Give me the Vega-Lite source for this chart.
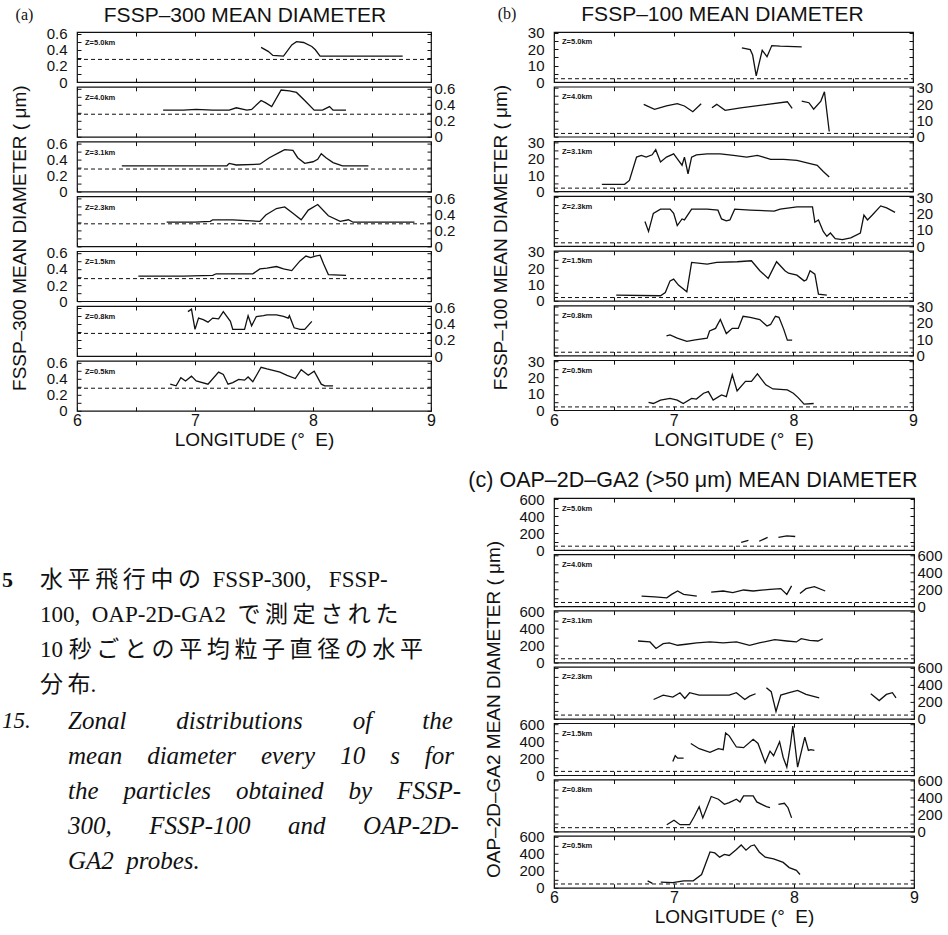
{
  "$schema": "https://vega.github.io/schema/vega-lite/v6.json",
  "background": "white",
  "padding": {"left": 2, "top": 4, "right": 0, "bottom": 0},
  "config": {
    "view": {"stroke": "#111", "strokeWidth": 1.2},
    "font": "Liberation Sans",
    "axis": {"domain": false, "grid": false, "ticks": true, "tickSize": -4, "tickColor": "#111", "tickWidth": 1, "labelFont": "Liberation Sans", "labelFontSize": 15, "labelColor": "#111", "labelPadding": 14, "labelOverlap": false, "labelFlush": false, "titleFont": "Liberation Sans", "titleFontSize": 19, "titleFontWeight": "normal", "titleColor": "#111"},
    "axisLeft": {"labelPadding": 14},
    "axisRight": {"labelPadding": 7},
    "axisBottom": {"labelFontSize": 16, "labelPadding": 6, "titlePadding": 2},
    "line": {"color": "#111", "strokeWidth": 1.3},
    "rule": {"color": "#111", "strokeWidth": 1, "strokeDash": [4, 3]},
    "text": {"color": "#111"},
    "title": {"color": "#111", "font": "Liberation Sans", "fontWeight": "normal"}
  },
  "datasets": {
    "fssp300": [
      {"z": "5.0", "seg": 1, "lon": 7.56, "d": 0.43}, {"z": "5.0", "seg": 1, "lon": 7.62, "d": 0.38}, {"z": "5.0", "seg": 1, "lon": 7.66, "d": 0.33}, {"z": "5.0", "seg": 1, "lon": 7.75, "d": 0.32}, {"z": "5.0", "seg": 1, "lon": 7.82, "d": 0.46}, {"z": "5.0", "seg": 1, "lon": 7.86, "d": 0.5}, {"z": "5.0", "seg": 1, "lon": 7.92, "d": 0.49}, {"z": "5.0", "seg": 1, "lon": 7.99, "d": 0.44}, {"z": "5.0", "seg": 1, "lon": 8.02, "d": 0.4}, {"z": "5.0", "seg": 1, "lon": 8.06, "d": 0.32}, {"z": "5.0", "seg": 1, "lon": 8.3, "d": 0.32}, {"z": "5.0", "seg": 1, "lon": 8.5, "d": 0.32}, {"z": "5.0", "seg": 1, "lon": 8.76, "d": 0.32},
      {"z": "4.0", "seg": 1, "lon": 6.73, "d": 0.33}, {"z": "4.0", "seg": 1, "lon": 6.9, "d": 0.33}, {"z": "4.0", "seg": 1, "lon": 7.01, "d": 0.34}, {"z": "4.0", "seg": 1, "lon": 7.15, "d": 0.33}, {"z": "4.0", "seg": 1, "lon": 7.29, "d": 0.33}, {"z": "4.0", "seg": 1, "lon": 7.35, "d": 0.36}, {"z": "4.0", "seg": 1, "lon": 7.44, "d": 0.33}, {"z": "4.0", "seg": 1, "lon": 7.48, "d": 0.34}, {"z": "4.0", "seg": 1, "lon": 7.56, "d": 0.45}, {"z": "4.0", "seg": 1, "lon": 7.6, "d": 0.42}, {"z": "4.0", "seg": 1, "lon": 7.65, "d": 0.375}, {"z": "4.0", "seg": 1, "lon": 7.73, "d": 0.58}, {"z": "4.0", "seg": 1, "lon": 7.8, "d": 0.57}, {"z": "4.0", "seg": 1, "lon": 7.86, "d": 0.55}, {"z": "4.0", "seg": 1, "lon": 7.93, "d": 0.45}, {"z": "4.0", "seg": 1, "lon": 8.01, "d": 0.33}, {"z": "4.0", "seg": 1, "lon": 8.08, "d": 0.33}, {"z": "4.0", "seg": 1, "lon": 8.14, "d": 0.375}, {"z": "4.0", "seg": 1, "lon": 8.17, "d": 0.33}, {"z": "4.0", "seg": 1, "lon": 8.28, "d": 0.33},
      {"z": "3.1", "seg": 1, "lon": 6.38, "d": 0.32}, {"z": "3.1", "seg": 1, "lon": 6.6, "d": 0.32}, {"z": "3.1", "seg": 1, "lon": 6.8, "d": 0.32}, {"z": "3.1", "seg": 1, "lon": 7.0, "d": 0.32}, {"z": "3.1", "seg": 1, "lon": 7.27, "d": 0.32}, {"z": "3.1", "seg": 1, "lon": 7.29, "d": 0.35}, {"z": "3.1", "seg": 1, "lon": 7.35, "d": 0.33}, {"z": "3.1", "seg": 1, "lon": 7.55, "d": 0.34}, {"z": "3.1", "seg": 1, "lon": 7.63, "d": 0.42}, {"z": "3.1", "seg": 1, "lon": 7.72, "d": 0.49}, {"z": "3.1", "seg": 1, "lon": 7.76, "d": 0.52}, {"z": "3.1", "seg": 1, "lon": 7.83, "d": 0.51}, {"z": "3.1", "seg": 1, "lon": 7.87, "d": 0.42}, {"z": "3.1", "seg": 1, "lon": 7.93, "d": 0.35}, {"z": "3.1", "seg": 1, "lon": 8.0, "d": 0.37}, {"z": "3.1", "seg": 1, "lon": 8.04, "d": 0.4}, {"z": "3.1", "seg": 1, "lon": 8.07, "d": 0.47}, {"z": "3.1", "seg": 1, "lon": 8.11, "d": 0.42}, {"z": "3.1", "seg": 1, "lon": 8.17, "d": 0.36}, {"z": "3.1", "seg": 1, "lon": 8.25, "d": 0.32}, {"z": "3.1", "seg": 1, "lon": 8.47, "d": 0.32},
      {"z": "2.3", "seg": 1, "lon": 6.76, "d": 0.3}, {"z": "2.3", "seg": 1, "lon": 7.0, "d": 0.3}, {"z": "2.3", "seg": 1, "lon": 7.13, "d": 0.31}, {"z": "2.3", "seg": 1, "lon": 7.15, "d": 0.33}, {"z": "2.3", "seg": 1, "lon": 7.32, "d": 0.33}, {"z": "2.3", "seg": 1, "lon": 7.55, "d": 0.31}, {"z": "2.3", "seg": 1, "lon": 7.6, "d": 0.39}, {"z": "2.3", "seg": 1, "lon": 7.69, "d": 0.47}, {"z": "2.3", "seg": 1, "lon": 7.76, "d": 0.49}, {"z": "2.3", "seg": 1, "lon": 7.83, "d": 0.41}, {"z": "2.3", "seg": 1, "lon": 7.9, "d": 0.33}, {"z": "2.3", "seg": 1, "lon": 7.96, "d": 0.45}, {"z": "2.3", "seg": 1, "lon": 8.04, "d": 0.52}, {"z": "2.3", "seg": 1, "lon": 8.13, "d": 0.38}, {"z": "2.3", "seg": 1, "lon": 8.23, "d": 0.31}, {"z": "2.3", "seg": 1, "lon": 8.3, "d": 0.33}, {"z": "2.3", "seg": 1, "lon": 8.34, "d": 0.3}, {"z": "2.3", "seg": 1, "lon": 8.6, "d": 0.3}, {"z": "2.3", "seg": 1, "lon": 8.86, "d": 0.3},
      {"z": "1.5", "seg": 1, "lon": 6.52, "d": 0.31}, {"z": "1.5", "seg": 1, "lon": 6.9, "d": 0.31}, {"z": "1.5", "seg": 1, "lon": 7.15, "d": 0.32}, {"z": "1.5", "seg": 1, "lon": 7.18, "d": 0.34}, {"z": "1.5", "seg": 1, "lon": 7.49, "d": 0.34}, {"z": "1.5", "seg": 1, "lon": 7.55, "d": 0.4}, {"z": "1.5", "seg": 1, "lon": 7.61, "d": 0.41}, {"z": "1.5", "seg": 1, "lon": 7.69, "d": 0.43}, {"z": "1.5", "seg": 1, "lon": 7.75, "d": 0.4}, {"z": "1.5", "seg": 1, "lon": 7.82, "d": 0.38}, {"z": "1.5", "seg": 1, "lon": 7.89, "d": 0.5}, {"z": "1.5", "seg": 1, "lon": 7.94, "d": 0.56}, {"z": "1.5", "seg": 1, "lon": 7.98, "d": 0.54}, {"z": "1.5", "seg": 1, "lon": 8.02, "d": 0.56}, {"z": "1.5", "seg": 1, "lon": 8.06, "d": 0.57}, {"z": "1.5", "seg": 1, "lon": 8.09, "d": 0.46}, {"z": "1.5", "seg": 1, "lon": 8.13, "d": 0.33}, {"z": "1.5", "seg": 1, "lon": 8.28, "d": 0.32},
      {"z": "0.8", "seg": 1, "lon": 6.94, "d": 0.55}, {"z": "0.8", "seg": 1, "lon": 6.97, "d": 0.58}, {"z": "0.8", "seg": 1, "lon": 7.0, "d": 0.33}, {"z": "0.8", "seg": 1, "lon": 7.03, "d": 0.47}, {"z": "0.8", "seg": 1, "lon": 7.07, "d": 0.45}, {"z": "0.8", "seg": 1, "lon": 7.11, "d": 0.42}, {"z": "0.8", "seg": 1, "lon": 7.15, "d": 0.47}, {"z": "0.8", "seg": 1, "lon": 7.2, "d": 0.46}, {"z": "0.8", "seg": 1, "lon": 7.24, "d": 0.55}, {"z": "0.8", "seg": 1, "lon": 7.3, "d": 0.43}, {"z": "0.8", "seg": 1, "lon": 7.32, "d": 0.33}, {"z": "0.8", "seg": 1, "lon": 7.42, "d": 0.33}, {"z": "0.8", "seg": 1, "lon": 7.45, "d": 0.5}, {"z": "0.8", "seg": 1, "lon": 7.48, "d": 0.375}, {"z": "0.8", "seg": 1, "lon": 7.52, "d": 0.49}, {"z": "0.8", "seg": 1, "lon": 7.58, "d": 0.5}, {"z": "0.8", "seg": 1, "lon": 7.61, "d": 0.51}, {"z": "0.8", "seg": 1, "lon": 7.69, "d": 0.51}, {"z": "0.8", "seg": 1, "lon": 7.75, "d": 0.49}, {"z": "0.8", "seg": 1, "lon": 7.79, "d": 0.47}, {"z": "0.8", "seg": 1, "lon": 7.8, "d": 0.5}, {"z": "0.8", "seg": 1, "lon": 7.84, "d": 0.35}, {"z": "0.8", "seg": 1, "lon": 7.89, "d": 0.33}, {"z": "0.8", "seg": 1, "lon": 7.93, "d": 0.33}, {"z": "0.8", "seg": 1, "lon": 7.99, "d": 0.43},
      {"z": "0.5", "seg": 1, "lon": 6.79, "d": 0.33}, {"z": "0.5", "seg": 1, "lon": 6.84, "d": 0.31}, {"z": "0.5", "seg": 1, "lon": 6.88, "d": 0.41}, {"z": "0.5", "seg": 1, "lon": 6.92, "d": 0.37}, {"z": "0.5", "seg": 1, "lon": 6.97, "d": 0.43}, {"z": "0.5", "seg": 1, "lon": 7.01, "d": 0.37}, {"z": "0.5", "seg": 1, "lon": 7.11, "d": 0.33}, {"z": "0.5", "seg": 1, "lon": 7.2, "d": 0.48}, {"z": "0.5", "seg": 1, "lon": 7.24, "d": 0.45}, {"z": "0.5", "seg": 1, "lon": 7.28, "d": 0.33}, {"z": "0.5", "seg": 1, "lon": 7.32, "d": 0.35}, {"z": "0.5", "seg": 1, "lon": 7.37, "d": 0.39}, {"z": "0.5", "seg": 1, "lon": 7.42, "d": 0.38}, {"z": "0.5", "seg": 1, "lon": 7.45, "d": 0.42}, {"z": "0.5", "seg": 1, "lon": 7.49, "d": 0.36}, {"z": "0.5", "seg": 1, "lon": 7.56, "d": 0.54}, {"z": "0.5", "seg": 1, "lon": 7.61, "d": 0.52}, {"z": "0.5", "seg": 1, "lon": 7.72, "d": 0.48}, {"z": "0.5", "seg": 1, "lon": 7.78, "d": 0.44}, {"z": "0.5", "seg": 1, "lon": 7.85, "d": 0.4}, {"z": "0.5", "seg": 1, "lon": 7.9, "d": 0.51}, {"z": "0.5", "seg": 1, "lon": 7.96, "d": 0.44}, {"z": "0.5", "seg": 1, "lon": 8.01, "d": 0.49}, {"z": "0.5", "seg": 1, "lon": 8.07, "d": 0.33}, {"z": "0.5", "seg": 1, "lon": 8.1, "d": 0.31}, {"z": "0.5", "seg": 1, "lon": 8.17, "d": 0.31}
    ],
    "fssp100": [
      {"z": "5.0", "seg": 1, "lon": 7.57, "d": 20.9}, {"z": "5.0", "seg": 1, "lon": 7.64, "d": 19.8}, {"z": "5.0", "seg": 1, "lon": 7.66, "d": 16.5}, {"z": "5.0", "seg": 1, "lon": 7.69, "d": 3.8}, {"z": "5.0", "seg": 1, "lon": 7.71, "d": 10.2}, {"z": "5.0", "seg": 1, "lon": 7.74, "d": 19.4}, {"z": "5.0", "seg": 1, "lon": 7.78, "d": 15.5}, {"z": "5.0", "seg": 1, "lon": 7.82, "d": 22.3}, {"z": "5.0", "seg": 1, "lon": 7.89, "d": 21.9}, {"z": "5.0", "seg": 1, "lon": 8.07, "d": 21.5},
      {"z": "4.0", "seg": 1, "lon": 6.75, "d": 19.8}, {"z": "4.0", "seg": 1, "lon": 6.84, "d": 16.7}, {"z": "4.0", "seg": 1, "lon": 6.94, "d": 18.8}, {"z": "4.0", "seg": 1, "lon": 7.03, "d": 20.2}, {"z": "4.0", "seg": 1, "lon": 7.09, "d": 18.8}, {"z": "4.0", "seg": 1, "lon": 7.16, "d": 15.3}, {"z": "4.0", "seg": 1, "lon": 7.23, "d": 20.2},
      {"z": "4.0", "seg": 2, "lon": 7.32, "d": 17.7}, {"z": "4.0", "seg": 2, "lon": 7.36, "d": 19.8}, {"z": "4.0", "seg": 2, "lon": 7.43, "d": 16.1}, {"z": "4.0", "seg": 2, "lon": 7.56, "d": 17.7}, {"z": "4.0", "seg": 2, "lon": 7.72, "d": 19.2}, {"z": "4.0", "seg": 2, "lon": 7.95, "d": 21.4}, {"z": "4.0", "seg": 2, "lon": 7.99, "d": 17.3},
      {"z": "4.0", "seg": 3, "lon": 8.07, "d": 21.8}, {"z": "4.0", "seg": 3, "lon": 8.13, "d": 20.8}, {"z": "4.0", "seg": 3, "lon": 8.17, "d": 16.8}, {"z": "4.0", "seg": 3, "lon": 8.23, "d": 21.8}, {"z": "4.0", "seg": 3, "lon": 8.26, "d": 27.5}, {"z": "4.0", "seg": 3, "lon": 8.3, "d": 3.2},
      {"z": "3.1", "seg": 1, "lon": 6.4, "d": 4.3}, {"z": "3.1", "seg": 1, "lon": 6.49, "d": 4.3}, {"z": "3.1", "seg": 1, "lon": 6.59, "d": 4.3}, {"z": "3.1", "seg": 1, "lon": 6.63, "d": 6.7}, {"z": "3.1", "seg": 1, "lon": 6.69, "d": 21}, {"z": "3.1", "seg": 1, "lon": 6.73, "d": 22}, {"z": "3.1", "seg": 1, "lon": 6.77, "d": 21}, {"z": "3.1", "seg": 1, "lon": 6.82, "d": 22.4}, {"z": "3.1", "seg": 1, "lon": 6.85, "d": 25.5}, {"z": "3.1", "seg": 1, "lon": 6.89, "d": 18}, {"z": "3.1", "seg": 1, "lon": 6.94, "d": 21}, {"z": "3.1", "seg": 1, "lon": 7.0, "d": 23}, {"z": "3.1", "seg": 1, "lon": 7.04, "d": 19}, {"z": "3.1", "seg": 1, "lon": 7.07, "d": 16}, {"z": "3.1", "seg": 1, "lon": 7.09, "d": 21}, {"z": "3.1", "seg": 1, "lon": 7.12, "d": 10.8}, {"z": "3.1", "seg": 1, "lon": 7.15, "d": 21}, {"z": "3.1", "seg": 1, "lon": 7.19, "d": 22.4}, {"z": "3.1", "seg": 1, "lon": 7.28, "d": 23}, {"z": "3.1", "seg": 1, "lon": 7.39, "d": 23}, {"z": "3.1", "seg": 1, "lon": 7.5, "d": 22}, {"z": "3.1", "seg": 1, "lon": 7.61, "d": 21}, {"z": "3.1", "seg": 1, "lon": 7.7, "d": 22}, {"z": "3.1", "seg": 1, "lon": 7.75, "d": 21}, {"z": "3.1", "seg": 1, "lon": 7.81, "d": 19.6}, {"z": "3.1", "seg": 1, "lon": 7.92, "d": 19.6}, {"z": "3.1", "seg": 1, "lon": 8.03, "d": 19}, {"z": "3.1", "seg": 1, "lon": 8.14, "d": 17}, {"z": "3.1", "seg": 1, "lon": 8.2, "d": 16}, {"z": "3.1", "seg": 1, "lon": 8.25, "d": 12.2}, {"z": "3.1", "seg": 1, "lon": 8.3, "d": 8.8},
      {"z": "2.3", "seg": 1, "lon": 6.76, "d": 15}, {"z": "2.3", "seg": 1, "lon": 6.79, "d": 9}, {"z": "2.3", "seg": 1, "lon": 6.83, "d": 20}, {"z": "2.3", "seg": 1, "lon": 6.89, "d": 22.6}, {"z": "2.3", "seg": 1, "lon": 6.97, "d": 22.6}, {"z": "2.3", "seg": 1, "lon": 7.0, "d": 20}, {"z": "2.3", "seg": 1, "lon": 7.03, "d": 12.6}, {"z": "2.3", "seg": 1, "lon": 7.07, "d": 16.6}, {"z": "2.3", "seg": 1, "lon": 7.09, "d": 16}, {"z": "2.3", "seg": 1, "lon": 7.15, "d": 22.6}, {"z": "2.3", "seg": 1, "lon": 7.28, "d": 22.6}, {"z": "2.3", "seg": 1, "lon": 7.37, "d": 22}, {"z": "2.3", "seg": 1, "lon": 7.4, "d": 16.6}, {"z": "2.3", "seg": 1, "lon": 7.44, "d": 15.4}, {"z": "2.3", "seg": 1, "lon": 7.47, "d": 16}, {"z": "2.3", "seg": 1, "lon": 7.51, "d": 22.6}, {"z": "2.3", "seg": 1, "lon": 7.64, "d": 22}, {"z": "2.3", "seg": 1, "lon": 7.84, "d": 21.4}, {"z": "2.3", "seg": 1, "lon": 7.89, "d": 22.6}, {"z": "2.3", "seg": 1, "lon": 8.03, "d": 24}, {"z": "2.3", "seg": 1, "lon": 8.16, "d": 24}, {"z": "2.3", "seg": 1, "lon": 8.18, "d": 14.6}, {"z": "2.3", "seg": 1, "lon": 8.21, "d": 16}, {"z": "2.3", "seg": 1, "lon": 8.25, "d": 9}, {"z": "2.3", "seg": 1, "lon": 8.28, "d": 6}, {"z": "2.3", "seg": 1, "lon": 8.31, "d": 8}, {"z": "2.3", "seg": 1, "lon": 8.35, "d": 4.6}, {"z": "2.3", "seg": 1, "lon": 8.41, "d": 4}, {"z": "2.3", "seg": 1, "lon": 8.48, "d": 5}, {"z": "2.3", "seg": 1, "lon": 8.56, "d": 8}, {"z": "2.3", "seg": 1, "lon": 8.59, "d": 19}, {"z": "2.3", "seg": 1, "lon": 8.62, "d": 16}, {"z": "2.3", "seg": 1, "lon": 8.66, "d": 19}, {"z": "2.3", "seg": 1, "lon": 8.73, "d": 24.6}, {"z": "2.3", "seg": 1, "lon": 8.78, "d": 23.4}, {"z": "2.3", "seg": 1, "lon": 8.85, "d": 20.6},
      {"z": "1.5", "seg": 1, "lon": 6.52, "d": 3.5}, {"z": "1.5", "seg": 1, "lon": 6.89, "d": 3.1}, {"z": "1.5", "seg": 1, "lon": 6.93, "d": 5.1}, {"z": "1.5", "seg": 1, "lon": 6.97, "d": 12.2}, {"z": "1.5", "seg": 1, "lon": 7.0, "d": 13.3}, {"z": "1.5", "seg": 1, "lon": 7.04, "d": 9.6}, {"z": "1.5", "seg": 1, "lon": 7.11, "d": 5.5}, {"z": "1.5", "seg": 1, "lon": 7.15, "d": 23.5}, {"z": "1.5", "seg": 1, "lon": 7.28, "d": 22.4}, {"z": "1.5", "seg": 1, "lon": 7.36, "d": 23.5}, {"z": "1.5", "seg": 1, "lon": 7.53, "d": 23.9}, {"z": "1.5", "seg": 1, "lon": 7.65, "d": 24.5}, {"z": "1.5", "seg": 1, "lon": 7.72, "d": 18.4}, {"z": "1.5", "seg": 1, "lon": 7.79, "d": 13.7}, {"z": "1.5", "seg": 1, "lon": 7.86, "d": 23.9}, {"z": "1.5", "seg": 1, "lon": 7.93, "d": 18.4}, {"z": "1.5", "seg": 1, "lon": 7.96, "d": 16.9}, {"z": "1.5", "seg": 1, "lon": 8.03, "d": 15.7}, {"z": "1.5", "seg": 1, "lon": 8.09, "d": 12.2}, {"z": "1.5", "seg": 1, "lon": 8.11, "d": 12.9}, {"z": "1.5", "seg": 1, "lon": 8.14, "d": 18.4}, {"z": "1.5", "seg": 1, "lon": 8.18, "d": 16.3}, {"z": "1.5", "seg": 1, "lon": 8.21, "d": 4.1}, {"z": "1.5", "seg": 1, "lon": 8.28, "d": 3.5},
      {"z": "0.8", "seg": 1, "lon": 6.94, "d": 12}, {"z": "0.8", "seg": 1, "lon": 6.97, "d": 12.6}, {"z": "0.8", "seg": 1, "lon": 7.03, "d": 10.6}, {"z": "0.8", "seg": 1, "lon": 7.11, "d": 8.6}, {"z": "0.8", "seg": 1, "lon": 7.18, "d": 9.6}, {"z": "0.8", "seg": 1, "lon": 7.28, "d": 10.6}, {"z": "0.8", "seg": 1, "lon": 7.3, "d": 15}, {"z": "0.8", "seg": 1, "lon": 7.35, "d": 16.6}, {"z": "0.8", "seg": 1, "lon": 7.39, "d": 22}, {"z": "0.8", "seg": 1, "lon": 7.44, "d": 13.4}, {"z": "0.8", "seg": 1, "lon": 7.49, "d": 16.6}, {"z": "0.8", "seg": 1, "lon": 7.54, "d": 16.6}, {"z": "0.8", "seg": 1, "lon": 7.58, "d": 24}, {"z": "0.8", "seg": 1, "lon": 7.64, "d": 23.4}, {"z": "0.8", "seg": 1, "lon": 7.72, "d": 22}, {"z": "0.8", "seg": 1, "lon": 7.78, "d": 18}, {"z": "0.8", "seg": 1, "lon": 7.81, "d": 19}, {"z": "0.8", "seg": 1, "lon": 7.85, "d": 24}, {"z": "0.8", "seg": 1, "lon": 7.88, "d": 23.4}, {"z": "0.8", "seg": 1, "lon": 7.92, "d": 16}, {"z": "0.8", "seg": 1, "lon": 7.95, "d": 9.4}, {"z": "0.8", "seg": 1, "lon": 7.99, "d": 9.4},
      {"z": "0.5", "seg": 1, "lon": 6.79, "d": 4.8}, {"z": "0.5", "seg": 1, "lon": 6.83, "d": 4.1}, {"z": "0.5", "seg": 1, "lon": 6.89, "d": 6.2}, {"z": "0.5", "seg": 1, "lon": 6.97, "d": 7.2}, {"z": "0.5", "seg": 1, "lon": 7.03, "d": 6.2}, {"z": "0.5", "seg": 1, "lon": 7.08, "d": 4.1}, {"z": "0.5", "seg": 1, "lon": 7.15, "d": 7.2}, {"z": "0.5", "seg": 1, "lon": 7.19, "d": 6.8}, {"z": "0.5", "seg": 1, "lon": 7.25, "d": 10.4}, {"z": "0.5", "seg": 1, "lon": 7.29, "d": 11.4}, {"z": "0.5", "seg": 1, "lon": 7.33, "d": 6.2}, {"z": "0.5", "seg": 1, "lon": 7.4, "d": 9.3}, {"z": "0.5", "seg": 1, "lon": 7.44, "d": 8.3}, {"z": "0.5", "seg": 1, "lon": 7.49, "d": 21.7}, {"z": "0.5", "seg": 1, "lon": 7.53, "d": 11.8}, {"z": "0.5", "seg": 1, "lon": 7.6, "d": 17.6}, {"z": "0.5", "seg": 1, "lon": 7.65, "d": 17.6}, {"z": "0.5", "seg": 1, "lon": 7.7, "d": 22.2}, {"z": "0.5", "seg": 1, "lon": 7.77, "d": 15.5}, {"z": "0.5", "seg": 1, "lon": 7.83, "d": 13}, {"z": "0.5", "seg": 1, "lon": 7.95, "d": 12.4}, {"z": "0.5", "seg": 1, "lon": 8.0, "d": 10.4}, {"z": "0.5", "seg": 1, "lon": 8.04, "d": 7.7}, {"z": "0.5", "seg": 1, "lon": 8.09, "d": 3.7}, {"z": "0.5", "seg": 1, "lon": 8.17, "d": 4.1}
    ],
    "oap": [
      {"z": "5.0", "seg": 1, "lon": 7.56, "d": 90}, {"z": "5.0", "seg": 1, "lon": 7.62, "d": 114},
      {"z": "5.0", "seg": 2, "lon": 7.71, "d": 103}, {"z": "5.0", "seg": 2, "lon": 7.78, "d": 148},
      {"z": "5.0", "seg": 3, "lon": 7.87, "d": 148}, {"z": "5.0", "seg": 3, "lon": 7.94, "d": 166}, {"z": "5.0", "seg": 3, "lon": 8.01, "d": 159},
      {"z": "4.0", "seg": 1, "lon": 6.73, "d": 120}, {"z": "4.0", "seg": 1, "lon": 6.84, "d": 112}, {"z": "4.0", "seg": 1, "lon": 6.94, "d": 100}, {"z": "4.0", "seg": 1, "lon": 6.98, "d": 140}, {"z": "4.0", "seg": 1, "lon": 7.03, "d": 180}, {"z": "4.0", "seg": 1, "lon": 7.08, "d": 140}, {"z": "4.0", "seg": 1, "lon": 7.19, "d": 120},
      {"z": "4.0", "seg": 2, "lon": 7.31, "d": 168}, {"z": "4.0", "seg": 2, "lon": 7.41, "d": 180}, {"z": "4.0", "seg": 2, "lon": 7.49, "d": 160}, {"z": "4.0", "seg": 2, "lon": 7.58, "d": 192}, {"z": "4.0", "seg": 2, "lon": 7.66, "d": 180}, {"z": "4.0", "seg": 2, "lon": 7.8, "d": 200}, {"z": "4.0", "seg": 2, "lon": 7.89, "d": 208}, {"z": "4.0", "seg": 2, "lon": 7.94, "d": 140}, {"z": "4.0", "seg": 2, "lon": 7.98, "d": 240},
      {"z": "4.0", "seg": 3, "lon": 8.05, "d": 152}, {"z": "4.0", "seg": 3, "lon": 8.1, "d": 208}, {"z": "4.0", "seg": 3, "lon": 8.17, "d": 232}, {"z": "4.0", "seg": 3, "lon": 8.26, "d": 180},
      {"z": "3.1", "seg": 1, "lon": 6.7, "d": 254}, {"z": "3.1", "seg": 1, "lon": 6.8, "d": 243}, {"z": "3.1", "seg": 1, "lon": 6.85, "d": 166}, {"z": "3.1", "seg": 1, "lon": 6.91, "d": 223}, {"z": "3.1", "seg": 1, "lon": 6.96, "d": 231}, {"z": "3.1", "seg": 1, "lon": 7.03, "d": 204}, {"z": "3.1", "seg": 1, "lon": 7.1, "d": 216}, {"z": "3.1", "seg": 1, "lon": 7.19, "d": 231}, {"z": "3.1", "seg": 1, "lon": 7.3, "d": 243}, {"z": "3.1", "seg": 1, "lon": 7.41, "d": 231}, {"z": "3.1", "seg": 1, "lon": 7.52, "d": 243}, {"z": "3.1", "seg": 1, "lon": 7.63, "d": 204}, {"z": "3.1", "seg": 1, "lon": 7.71, "d": 231}, {"z": "3.1", "seg": 1, "lon": 7.84, "d": 270}, {"z": "3.1", "seg": 1, "lon": 7.94, "d": 254}, {"z": "3.1", "seg": 1, "lon": 8.02, "d": 243}, {"z": "3.1", "seg": 1, "lon": 8.06, "d": 281}, {"z": "3.1", "seg": 1, "lon": 8.13, "d": 262}, {"z": "3.1", "seg": 1, "lon": 8.2, "d": 254}, {"z": "3.1", "seg": 1, "lon": 8.24, "d": 281},
      {"z": "2.3", "seg": 1, "lon": 6.83, "d": 228}, {"z": "2.3", "seg": 1, "lon": 6.91, "d": 280}, {"z": "2.3", "seg": 1, "lon": 6.99, "d": 256}, {"z": "2.3", "seg": 1, "lon": 7.05, "d": 308}, {"z": "2.3", "seg": 1, "lon": 7.09, "d": 240}, {"z": "2.3", "seg": 1, "lon": 7.13, "d": 308}, {"z": "2.3", "seg": 1, "lon": 7.21, "d": 280}, {"z": "2.3", "seg": 1, "lon": 7.35, "d": 280}, {"z": "2.3", "seg": 1, "lon": 7.46, "d": 280}, {"z": "2.3", "seg": 1, "lon": 7.52, "d": 308}, {"z": "2.3", "seg": 1, "lon": 7.59, "d": 228}, {"z": "2.3", "seg": 1, "lon": 7.63, "d": 268}, {"z": "2.3", "seg": 1, "lon": 7.68, "d": 296},
      {"z": "2.3", "seg": 2, "lon": 7.77, "d": 368}, {"z": "2.3", "seg": 2, "lon": 7.81, "d": 320}, {"z": "2.3", "seg": 2, "lon": 7.85, "d": 88}, {"z": "2.3", "seg": 2, "lon": 7.89, "d": 280}, {"z": "2.3", "seg": 2, "lon": 7.96, "d": 308}, {"z": "2.3", "seg": 2, "lon": 8.03, "d": 336}, {"z": "2.3", "seg": 2, "lon": 8.1, "d": 288}, {"z": "2.3", "seg": 2, "lon": 8.21, "d": 248},
      {"z": "2.3", "seg": 3, "lon": 8.64, "d": 296}, {"z": "2.3", "seg": 3, "lon": 8.71, "d": 216}, {"z": "2.3", "seg": 3, "lon": 8.77, "d": 288}, {"z": "2.3", "seg": 3, "lon": 8.82, "d": 308}, {"z": "2.3", "seg": 3, "lon": 8.85, "d": 248},
      {"z": "1.5", "seg": 1, "lon": 6.99, "d": 160}, {"z": "1.5", "seg": 1, "lon": 7.01, "d": 230}, {"z": "1.5", "seg": 1, "lon": 7.03, "d": 200}, {"z": "1.5", "seg": 1, "lon": 7.08, "d": 200},
      {"z": "1.5", "seg": 2, "lon": 7.14, "d": 373}, {"z": "1.5", "seg": 2, "lon": 7.21, "d": 312}, {"z": "1.5", "seg": 2, "lon": 7.3, "d": 270}, {"z": "1.5", "seg": 2, "lon": 7.37, "d": 312}, {"z": "1.5", "seg": 2, "lon": 7.41, "d": 300}, {"z": "1.5", "seg": 2, "lon": 7.43, "d": 496}, {"z": "1.5", "seg": 2, "lon": 7.46, "d": 463}, {"z": "1.5", "seg": 2, "lon": 7.52, "d": 332}, {"z": "1.5", "seg": 2, "lon": 7.58, "d": 324}, {"z": "1.5", "seg": 2, "lon": 7.66, "d": 422}, {"z": "1.5", "seg": 2, "lon": 7.7, "d": 373}, {"z": "1.5", "seg": 2, "lon": 7.76, "d": 148}, {"z": "1.5", "seg": 2, "lon": 7.8, "d": 283}, {"z": "1.5", "seg": 2, "lon": 7.83, "d": 230}, {"z": "1.5", "seg": 2, "lon": 7.88, "d": 394}, {"z": "1.5", "seg": 2, "lon": 7.91, "d": 209}, {"z": "1.5", "seg": 2, "lon": 7.94, "d": 94}, {"z": "1.5", "seg": 2, "lon": 7.97, "d": 353}, {"z": "1.5", "seg": 2, "lon": 7.99, "d": 578}, {"z": "1.5", "seg": 2, "lon": 8.03, "d": 94}, {"z": "1.5", "seg": 2, "lon": 8.09, "d": 447}, {"z": "1.5", "seg": 2, "lon": 8.12, "d": 291}, {"z": "1.5", "seg": 2, "lon": 8.14, "d": 300}, {"z": "1.5", "seg": 2, "lon": 8.17, "d": 291},
      {"z": "0.8", "seg": 1, "lon": 6.94, "d": 80}, {"z": "0.8", "seg": 1, "lon": 7.0, "d": 132}, {"z": "0.8", "seg": 1, "lon": 7.05, "d": 80}, {"z": "0.8", "seg": 1, "lon": 7.13, "d": 80}, {"z": "0.8", "seg": 1, "lon": 7.17, "d": 180}, {"z": "0.8", "seg": 1, "lon": 7.21, "d": 292}, {"z": "0.8", "seg": 1, "lon": 7.24, "d": 160}, {"z": "0.8", "seg": 1, "lon": 7.31, "d": 412}, {"z": "0.8", "seg": 1, "lon": 7.37, "d": 380}, {"z": "0.8", "seg": 1, "lon": 7.42, "d": 320}, {"z": "0.8", "seg": 1, "lon": 7.46, "d": 340}, {"z": "0.8", "seg": 1, "lon": 7.52, "d": 380}, {"z": "0.8", "seg": 1, "lon": 7.55, "d": 348}, {"z": "0.8", "seg": 1, "lon": 7.58, "d": 420}, {"z": "0.8", "seg": 1, "lon": 7.66, "d": 420}, {"z": "0.8", "seg": 1, "lon": 7.69, "d": 348}, {"z": "0.8", "seg": 1, "lon": 7.77, "d": 292}, {"z": "0.8", "seg": 1, "lon": 7.8, "d": 280},
      {"z": "0.8", "seg": 2, "lon": 7.87, "d": 320}, {"z": "0.8", "seg": 2, "lon": 7.92, "d": 332}, {"z": "0.8", "seg": 2, "lon": 7.95, "d": 280}, {"z": "0.8", "seg": 2, "lon": 7.98, "d": 160},
      {"z": "0.5", "seg": 1, "lon": 6.78, "d": 82}, {"z": "0.5", "seg": 1, "lon": 6.82, "d": 53},
      {"z": "0.5", "seg": 2, "lon": 6.89, "d": 66}, {"z": "0.5", "seg": 2, "lon": 6.99, "d": 62}, {"z": "0.5", "seg": 2, "lon": 7.08, "d": 82}, {"z": "0.5", "seg": 2, "lon": 7.16, "d": 82}, {"z": "0.5", "seg": 2, "lon": 7.23, "d": 156}, {"z": "0.5", "seg": 2, "lon": 7.3, "d": 422}, {"z": "0.5", "seg": 2, "lon": 7.34, "d": 410}, {"z": "0.5", "seg": 2, "lon": 7.38, "d": 361}, {"z": "0.5", "seg": 2, "lon": 7.42, "d": 394}, {"z": "0.5", "seg": 2, "lon": 7.46, "d": 381}, {"z": "0.5", "seg": 2, "lon": 7.52, "d": 451}, {"z": "0.5", "seg": 2, "lon": 7.56, "d": 504}, {"z": "0.5", "seg": 2, "lon": 7.6, "d": 443}, {"z": "0.5", "seg": 2, "lon": 7.64, "d": 492}, {"z": "0.5", "seg": 2, "lon": 7.67, "d": 504}, {"z": "0.5", "seg": 2, "lon": 7.71, "d": 422}, {"z": "0.5", "seg": 2, "lon": 7.76, "d": 361}, {"z": "0.5", "seg": 2, "lon": 7.83, "d": 340}, {"z": "0.5", "seg": 2, "lon": 7.91, "d": 299}, {"z": "0.5", "seg": 2, "lon": 7.96, "d": 238}, {"z": "0.5", "seg": 2, "lon": 8.02, "d": 205}, {"z": "0.5", "seg": 2, "lon": 8.05, "d": 156}
    ]
  },
  "hconcat": [
    {
      "spacing": 118,
      "vconcat": [
        {
          "title": {"text": "(a)", "anchor": "start", "font": "Liberation Serif", "fontSize": 16, "offset": -18, "dx": 5},
          "vconcat": [
            {
              "title": {"text": "FSSP–300 MEAN DIAMETER", "anchor": "middle", "fontSize": 21, "offset": 0, "dx": 12},
              "vconcat": [
                {
                  "title": {"text": "FSSP–300 MEAN DIAMETER ( μm)", "orient": "left", "anchor": "middle", "fontSize": 19, "offset": 16},
                  "bounds": "flush",
                  "spacing": 4.8,
                  "vconcat": [
                    {"width": 354, "height": 50, "title": {"text": "Z=5.0km", "anchor": "start", "frame": "group", "fontSize": 7.5, "fontWeight": "bold", "offset": -20, "dx": 8},
                     "layer": [
                      {"data": {"name": "fssp300"}, "transform": [{"filter": "datum.z == '5.0'"}], "mark": "line",
                       "encoding": {"x": {"field": "lon", "type": "quantitative", "scale": {"domain": [6, 9]}, "axis": {"orient": "bottom", "values": [6, 6.5, 7, 7.5, 8, 8.5, 9], "labels": false, "title": null}},
                                    "y": {"field": "d", "type": "quantitative", "scale": {"domain": [0, 0.62]}, "axis": {"orient": "left", "values": [0, 0.1, 0.2, 0.3, 0.4, 0.5, 0.6], "format": "~g", "labelExpr": "abs(datum.value * 5 - round(datum.value * 5)) < 0.001 ? datum.label : ''", "title": null}},
                                    "detail": {"field": "seg", "type": "nominal"}}},
                      {"data": {"values": [{"d": 0.28}]}, "mark": "rule",
                       "encoding": {"x": {"datum": 6, "type": "quantitative", "scale": {"domain": [6, 9]}, "axis": {"orient": "top", "values": [6, 6.5, 7, 7.5, 8, 8.5, 9], "labels": false, "title": null}}, "x2": {"datum": 9},
                                    "y": {"field": "d", "type": "quantitative", "scale": {"domain": [0, 0.62]}, "axis": {"orient": "right", "values": [0, 0.1, 0.2, 0.3, 0.4, 0.5, 0.6], "labels": false, "title": null}}}}],
                     "resolve": {"axis": {"x": "independent", "y": "independent"}}},
                    {"width": 354, "height": 50, "title": {"text": "Z=4.0km", "anchor": "start", "frame": "group", "fontSize": 7.5, "fontWeight": "bold", "offset": -20, "dx": 8},
                     "layer": [
                      {"data": {"name": "fssp300"}, "transform": [{"filter": "datum.z == '4.0'"}], "mark": "line",
                       "encoding": {"x": {"field": "lon", "type": "quantitative", "scale": {"domain": [6, 9]}, "axis": {"orient": "bottom", "values": [6, 6.5, 7, 7.5, 8, 8.5, 9], "labels": false, "title": null}},
                                    "y": {"field": "d", "type": "quantitative", "scale": {"domain": [0, 0.62]}, "axis": {"orient": "left", "values": [0, 0.1, 0.2, 0.3, 0.4, 0.5, 0.6], "labels": false, "title": null}},
                                    "detail": {"field": "seg", "type": "nominal"}}},
                      {"data": {"values": [{"d": 0.28}]}, "mark": "rule",
                       "encoding": {"x": {"datum": 6, "type": "quantitative", "scale": {"domain": [6, 9]}, "axis": {"orient": "top", "values": [6, 6.5, 7, 7.5, 8, 8.5, 9], "labels": false, "title": null}}, "x2": {"datum": 9},
                                    "y": {"field": "d", "type": "quantitative", "scale": {"domain": [0, 0.62]}, "axis": {"orient": "right", "values": [0, 0.1, 0.2, 0.3, 0.4, 0.5, 0.6], "format": "~g", "labelExpr": "abs(datum.value * 5 - round(datum.value * 5)) < 0.001 ? datum.label : ''", "title": null}}}}],
                     "resolve": {"axis": {"x": "independent", "y": "independent"}}},
                    {"width": 354, "height": 50, "title": {"text": "Z=3.1km", "anchor": "start", "frame": "group", "fontSize": 7.5, "fontWeight": "bold", "offset": -20, "dx": 8},
                     "layer": [
                      {"data": {"name": "fssp300"}, "transform": [{"filter": "datum.z == '3.1'"}], "mark": "line",
                       "encoding": {"x": {"field": "lon", "type": "quantitative", "scale": {"domain": [6, 9]}, "axis": {"orient": "bottom", "values": [6, 6.5, 7, 7.5, 8, 8.5, 9], "labels": false, "title": null}},
                                    "y": {"field": "d", "type": "quantitative", "scale": {"domain": [0, 0.62]}, "axis": {"orient": "left", "values": [0, 0.1, 0.2, 0.3, 0.4, 0.5, 0.6], "format": "~g", "labelExpr": "abs(datum.value * 5 - round(datum.value * 5)) < 0.001 ? datum.label : ''", "title": null}},
                                    "detail": {"field": "seg", "type": "nominal"}}},
                      {"data": {"values": [{"d": 0.28}]}, "mark": "rule",
                       "encoding": {"x": {"datum": 6, "type": "quantitative", "scale": {"domain": [6, 9]}, "axis": {"orient": "top", "values": [6, 6.5, 7, 7.5, 8, 8.5, 9], "labels": false, "title": null}}, "x2": {"datum": 9},
                                    "y": {"field": "d", "type": "quantitative", "scale": {"domain": [0, 0.62]}, "axis": {"orient": "right", "values": [0, 0.1, 0.2, 0.3, 0.4, 0.5, 0.6], "labels": false, "title": null}}}}],
                     "resolve": {"axis": {"x": "independent", "y": "independent"}}},
                    {"width": 354, "height": 50, "title": {"text": "Z=2.3km", "anchor": "start", "frame": "group", "fontSize": 7.5, "fontWeight": "bold", "offset": -20, "dx": 8},
                     "layer": [
                      {"data": {"name": "fssp300"}, "transform": [{"filter": "datum.z == '2.3'"}], "mark": "line",
                       "encoding": {"x": {"field": "lon", "type": "quantitative", "scale": {"domain": [6, 9]}, "axis": {"orient": "bottom", "values": [6, 6.5, 7, 7.5, 8, 8.5, 9], "labels": false, "title": null}},
                                    "y": {"field": "d", "type": "quantitative", "scale": {"domain": [0, 0.62]}, "axis": {"orient": "left", "values": [0, 0.1, 0.2, 0.3, 0.4, 0.5, 0.6], "labels": false, "title": null}},
                                    "detail": {"field": "seg", "type": "nominal"}}},
                      {"data": {"values": [{"d": 0.28}]}, "mark": "rule",
                       "encoding": {"x": {"datum": 6, "type": "quantitative", "scale": {"domain": [6, 9]}, "axis": {"orient": "top", "values": [6, 6.5, 7, 7.5, 8, 8.5, 9], "labels": false, "title": null}}, "x2": {"datum": 9},
                                    "y": {"field": "d", "type": "quantitative", "scale": {"domain": [0, 0.62]}, "axis": {"orient": "right", "values": [0, 0.1, 0.2, 0.3, 0.4, 0.5, 0.6], "format": "~g", "labelExpr": "abs(datum.value * 5 - round(datum.value * 5)) < 0.001 ? datum.label : ''", "title": null}}}}],
                     "resolve": {"axis": {"x": "independent", "y": "independent"}}},
                    {"width": 354, "height": 50, "title": {"text": "Z=1.5km", "anchor": "start", "frame": "group", "fontSize": 7.5, "fontWeight": "bold", "offset": -20, "dx": 8},
                     "layer": [
                      {"data": {"name": "fssp300"}, "transform": [{"filter": "datum.z == '1.5'"}], "mark": "line",
                       "encoding": {"x": {"field": "lon", "type": "quantitative", "scale": {"domain": [6, 9]}, "axis": {"orient": "bottom", "values": [6, 6.5, 7, 7.5, 8, 8.5, 9], "labels": false, "title": null}},
                                    "y": {"field": "d", "type": "quantitative", "scale": {"domain": [0, 0.62]}, "axis": {"orient": "left", "values": [0, 0.1, 0.2, 0.3, 0.4, 0.5, 0.6], "format": "~g", "labelExpr": "abs(datum.value * 5 - round(datum.value * 5)) < 0.001 ? datum.label : ''", "title": null}},
                                    "detail": {"field": "seg", "type": "nominal"}}},
                      {"data": {"values": [{"d": 0.28}]}, "mark": "rule",
                       "encoding": {"x": {"datum": 6, "type": "quantitative", "scale": {"domain": [6, 9]}, "axis": {"orient": "top", "values": [6, 6.5, 7, 7.5, 8, 8.5, 9], "labels": false, "title": null}}, "x2": {"datum": 9},
                                    "y": {"field": "d", "type": "quantitative", "scale": {"domain": [0, 0.62]}, "axis": {"orient": "right", "values": [0, 0.1, 0.2, 0.3, 0.4, 0.5, 0.6], "labels": false, "title": null}}}}],
                     "resolve": {"axis": {"x": "independent", "y": "independent"}}},
                    {"width": 354, "height": 50, "title": {"text": "Z=0.8km", "anchor": "start", "frame": "group", "fontSize": 7.5, "fontWeight": "bold", "offset": -20, "dx": 8},
                     "layer": [
                      {"data": {"name": "fssp300"}, "transform": [{"filter": "datum.z == '0.8'"}], "mark": "line",
                       "encoding": {"x": {"field": "lon", "type": "quantitative", "scale": {"domain": [6, 9]}, "axis": {"orient": "bottom", "values": [6, 6.5, 7, 7.5, 8, 8.5, 9], "labels": false, "title": null}},
                                    "y": {"field": "d", "type": "quantitative", "scale": {"domain": [0, 0.62]}, "axis": {"orient": "left", "values": [0, 0.1, 0.2, 0.3, 0.4, 0.5, 0.6], "labels": false, "title": null}},
                                    "detail": {"field": "seg", "type": "nominal"}}},
                      {"data": {"values": [{"d": 0.28}]}, "mark": "rule",
                       "encoding": {"x": {"datum": 6, "type": "quantitative", "scale": {"domain": [6, 9]}, "axis": {"orient": "top", "values": [6, 6.5, 7, 7.5, 8, 8.5, 9], "labels": false, "title": null}}, "x2": {"datum": 9},
                                    "y": {"field": "d", "type": "quantitative", "scale": {"domain": [0, 0.62]}, "axis": {"orient": "right", "values": [0, 0.1, 0.2, 0.3, 0.4, 0.5, 0.6], "format": "~g", "labelExpr": "abs(datum.value * 5 - round(datum.value * 5)) < 0.001 ? datum.label : ''", "title": null}}}}],
                     "resolve": {"axis": {"x": "independent", "y": "independent"}}},
                    {"width": 354, "height": 50, "title": {"text": "Z=0.5km", "anchor": "start", "frame": "group", "fontSize": 7.5, "fontWeight": "bold", "offset": -20, "dx": 8},
                     "layer": [
                      {"data": {"name": "fssp300"}, "transform": [{"filter": "datum.z == '0.5'"}], "mark": "line",
                       "encoding": {"x": {"field": "lon", "type": "quantitative", "scale": {"domain": [6, 9]}, "axis": {"orient": "bottom", "values": [6, 6.5, 7, 7.5, 8, 8.5, 9], "format": "~g", "labelExpr": "datum.value % 1 == 0 ? datum.label : ''", "title": "LONGITUDE (°\u00a0\u00a0E)"}},
                                    "y": {"field": "d", "type": "quantitative", "scale": {"domain": [0, 0.62]}, "axis": {"orient": "left", "values": [0, 0.1, 0.2, 0.3, 0.4, 0.5, 0.6], "format": "~g", "labelExpr": "abs(datum.value * 5 - round(datum.value * 5)) < 0.001 ? datum.label : ''", "title": null}},
                                    "detail": {"field": "seg", "type": "nominal"}}},
                      {"data": {"values": [{"d": 0.28}]}, "mark": "rule",
                       "encoding": {"x": {"datum": 6, "type": "quantitative", "scale": {"domain": [6, 9]}, "axis": {"orient": "top", "values": [6, 6.5, 7, 7.5, 8, 8.5, 9], "labels": false, "title": null}}, "x2": {"datum": 9},
                                    "y": {"field": "d", "type": "quantitative", "scale": {"domain": [0, 0.62]}, "axis": {"orient": "right", "values": [0, 0.1, 0.2, 0.3, 0.4, 0.5, 0.6], "labels": false, "title": null}}}}],
                     "resolve": {"axis": {"x": "independent", "y": "independent"}}}
                  ]
                }
              ]
            }
          ]
        },
        {
          "width": 340, "height": 290,
          "view": {"stroke": null},
          "data": {"values": [
            {"line": 0, "col": 0, "role": "fig-ja", "text": "5"},
            {"line": 0, "col": 1, "role": "ja", "text": "水\u2009平\u2009飛\u2009行\u2009中\u2009の\u00a0 FSSP-300,\u00a0\u00a0 FSSP-"},
            {"line": 1, "col": 1, "role": "ja", "text": "100,\u00a0 OAP-2D-GA2\u00a0 で\u2009測\u2009定\u2009さ\u2009れ\u2009た"},
            {"line": 2, "col": 1, "role": "ja", "text": "10\u00a0秒\u2009ご\u2009と\u2009の\u2009平\u2009均\u2009粒\u2009子\u2009直\u2009径\u2009の\u2009水\u2009平"},
            {"line": 3, "col": 1, "role": "ja", "text": "分\u2009布."},
            {"line": 4, "col": 0, "role": "fig-en", "text": "15."},
            {"line": 4, "col": 2, "role": "en", "text": "Zonal\u00a0\u00a0\u00a0\u00a0\u00a0\u00a0\u00a0 distributions\u00a0\u00a0\u00a0\u00a0\u00a0\u00a0\u00a0 of\u00a0\u00a0\u00a0\u00a0\u00a0\u00a0\u00a0 the"},
            {"line": 5, "col": 2, "role": "en", "text": "mean\u00a0\u00a0\u00a0 diameter\u00a0\u00a0\u00a0 every\u00a0\u00a0\u00a0 10\u00a0\u00a0\u00a0 s\u00a0\u00a0\u00a0 for"},
            {"line": 6, "col": 2, "role": "en", "text": "the\u00a0\u00a0\u00a0 particles\u00a0\u00a0\u00a0 obtained\u00a0\u00a0\u00a0 by\u00a0\u00a0\u00a0 FSSP-"},
            {"line": 7, "col": 2, "role": "en", "text": "300,\u00a0\u00a0\u00a0\u00a0\u00a0 FSSP-100\u00a0\u00a0\u00a0\u00a0\u00a0 and\u00a0\u00a0\u00a0\u00a0\u00a0 OAP-2D-"},
            {"line": 8, "col": 2, "role": "en", "text": "GA2\u00a0 probes."}
          ]},
          "encoding": {
            "x": {"field": "col", "type": "quantitative", "scale": {"domain": [0, 1, 2], "range": [-75, -37, -9]}, "axis": null},
            "y": {"field": "line", "type": "quantitative", "scale": {"domain": [0, 8], "range": [0, 281]}, "axis": null},
            "text": {"field": "text"}
          },
          "layer": [
            {"transform": [{"filter": "datum.role == 'fig-ja'"}], "mark": {"type": "text", "align": "left", "baseline": "middle", "font": "Liberation Serif", "fontWeight": "bold", "fontSize": 22}},
            {"transform": [{"filter": "datum.role == 'ja'"}], "mark": {"type": "text", "align": "left", "baseline": "middle", "font": "Liberation Serif, Noto Sans CJK JP", "fontSize": 23}},
            {"transform": [{"filter": "datum.role == 'fig-en'"}], "mark": {"type": "text", "align": "left", "baseline": "middle", "font": "Liberation Serif", "fontStyle": "italic", "fontSize": 23}},
            {"transform": [{"filter": "datum.role == 'en'"}], "mark": {"type": "text", "align": "left", "baseline": "middle", "font": "Liberation Serif", "fontStyle": "italic", "fontSize": 25}}
          ]
        }
      ]
    },
    {
      "spacing": 19,
      "vconcat": [
        {
          "title": {"text": "(b)", "anchor": "start", "font": "Liberation Serif", "fontSize": 16, "offset": -18, "dx": 6},
          "vconcat": [
            {
              "title": {"text": "FSSP–100 MEAN DIAMETER", "anchor": "middle", "fontSize": 21, "offset": 0, "dx": 10},
              "vconcat": [
                {
                  "title": {"text": "FSSP–100 MEAN DIAMETER ( μm)", "orient": "left", "anchor": "middle", "fontSize": 19, "offset": 16},
                  "bounds": "flush",
                  "spacing": 4.7,
                  "vconcat": [
                    {"width": 359, "height": 50, "title": {"text": "Z=5.0km", "anchor": "start", "frame": "group", "fontSize": 7.5, "fontWeight": "bold", "offset": -20, "dx": 8},
                     "layer": [
                      {"data": {"name": "fssp100"}, "transform": [{"filter": "datum.z == '5.0'"}], "mark": "line",
                       "encoding": {"x": {"field": "lon", "type": "quantitative", "scale": {"domain": [6, 9]}, "axis": {"orient": "bottom", "values": [6, 6.5, 7, 7.5, 8, 8.5, 9], "labels": false, "title": null}},
                                    "y": {"field": "d", "type": "quantitative", "scale": {"domain": [0, 30.6]}, "axis": {"orient": "left", "values": [0, 5, 10, 15, 20, 25, 30], "labelExpr": "datum.value % 10 == 0 ? datum.label : ''", "title": null}},
                                    "detail": {"field": "seg", "type": "nominal"}}},
                      {"data": {"values": [{"d": 2}]}, "mark": "rule",
                       "encoding": {"x": {"datum": 6, "type": "quantitative", "scale": {"domain": [6, 9]}, "axis": {"orient": "top", "values": [6, 6.5, 7, 7.5, 8, 8.5, 9], "labels": false, "title": null}}, "x2": {"datum": 9},
                                    "y": {"field": "d", "type": "quantitative", "scale": {"domain": [0, 30.6]}, "axis": {"orient": "right", "values": [0, 5, 10, 15, 20, 25, 30], "labels": false, "title": null}}}}],
                     "resolve": {"axis": {"x": "independent", "y": "independent"}}},
                    {"width": 359, "height": 50, "title": {"text": "Z=4.0km", "anchor": "start", "frame": "group", "fontSize": 7.5, "fontWeight": "bold", "offset": -20, "dx": 8},
                     "layer": [
                      {"data": {"name": "fssp100"}, "transform": [{"filter": "datum.z == '4.0'"}], "mark": "line",
                       "encoding": {"x": {"field": "lon", "type": "quantitative", "scale": {"domain": [6, 9]}, "axis": {"orient": "bottom", "values": [6, 6.5, 7, 7.5, 8, 8.5, 9], "labels": false, "title": null}},
                                    "y": {"field": "d", "type": "quantitative", "scale": {"domain": [0, 30.6]}, "axis": {"orient": "left", "values": [0, 5, 10, 15, 20, 25, 30], "labels": false, "title": null}},
                                    "detail": {"field": "seg", "type": "nominal"}}},
                      {"data": {"values": [{"d": 2}]}, "mark": "rule",
                       "encoding": {"x": {"datum": 6, "type": "quantitative", "scale": {"domain": [6, 9]}, "axis": {"orient": "top", "values": [6, 6.5, 7, 7.5, 8, 8.5, 9], "labels": false, "title": null}}, "x2": {"datum": 9},
                                    "y": {"field": "d", "type": "quantitative", "scale": {"domain": [0, 30.6]}, "axis": {"orient": "right", "values": [0, 5, 10, 15, 20, 25, 30], "labelExpr": "datum.value % 10 == 0 ? datum.label : ''", "title": null}}}}],
                     "resolve": {"axis": {"x": "independent", "y": "independent"}}},
                    {"width": 359, "height": 50, "title": {"text": "Z=3.1km", "anchor": "start", "frame": "group", "fontSize": 7.5, "fontWeight": "bold", "offset": -20, "dx": 8},
                     "layer": [
                      {"data": {"name": "fssp100"}, "transform": [{"filter": "datum.z == '3.1'"}], "mark": "line",
                       "encoding": {"x": {"field": "lon", "type": "quantitative", "scale": {"domain": [6, 9]}, "axis": {"orient": "bottom", "values": [6, 6.5, 7, 7.5, 8, 8.5, 9], "labels": false, "title": null}},
                                    "y": {"field": "d", "type": "quantitative", "scale": {"domain": [0, 30.6]}, "axis": {"orient": "left", "values": [0, 5, 10, 15, 20, 25, 30], "labelExpr": "datum.value % 10 == 0 ? datum.label : ''", "title": null}},
                                    "detail": {"field": "seg", "type": "nominal"}}},
                      {"data": {"values": [{"d": 2}]}, "mark": "rule",
                       "encoding": {"x": {"datum": 6, "type": "quantitative", "scale": {"domain": [6, 9]}, "axis": {"orient": "top", "values": [6, 6.5, 7, 7.5, 8, 8.5, 9], "labels": false, "title": null}}, "x2": {"datum": 9},
                                    "y": {"field": "d", "type": "quantitative", "scale": {"domain": [0, 30.6]}, "axis": {"orient": "right", "values": [0, 5, 10, 15, 20, 25, 30], "labels": false, "title": null}}}}],
                     "resolve": {"axis": {"x": "independent", "y": "independent"}}},
                    {"width": 359, "height": 50, "title": {"text": "Z=2.3km", "anchor": "start", "frame": "group", "fontSize": 7.5, "fontWeight": "bold", "offset": -20, "dx": 8},
                     "layer": [
                      {"data": {"name": "fssp100"}, "transform": [{"filter": "datum.z == '2.3'"}], "mark": "line",
                       "encoding": {"x": {"field": "lon", "type": "quantitative", "scale": {"domain": [6, 9]}, "axis": {"orient": "bottom", "values": [6, 6.5, 7, 7.5, 8, 8.5, 9], "labels": false, "title": null}},
                                    "y": {"field": "d", "type": "quantitative", "scale": {"domain": [0, 30.6]}, "axis": {"orient": "left", "values": [0, 5, 10, 15, 20, 25, 30], "labels": false, "title": null}},
                                    "detail": {"field": "seg", "type": "nominal"}}},
                      {"data": {"values": [{"d": 2}]}, "mark": "rule",
                       "encoding": {"x": {"datum": 6, "type": "quantitative", "scale": {"domain": [6, 9]}, "axis": {"orient": "top", "values": [6, 6.5, 7, 7.5, 8, 8.5, 9], "labels": false, "title": null}}, "x2": {"datum": 9},
                                    "y": {"field": "d", "type": "quantitative", "scale": {"domain": [0, 30.6]}, "axis": {"orient": "right", "values": [0, 5, 10, 15, 20, 25, 30], "labelExpr": "datum.value % 10 == 0 ? datum.label : ''", "title": null}}}}],
                     "resolve": {"axis": {"x": "independent", "y": "independent"}}},
                    {"width": 359, "height": 50, "title": {"text": "Z=1.5km", "anchor": "start", "frame": "group", "fontSize": 7.5, "fontWeight": "bold", "offset": -20, "dx": 8},
                     "layer": [
                      {"data": {"name": "fssp100"}, "transform": [{"filter": "datum.z == '1.5'"}], "mark": "line",
                       "encoding": {"x": {"field": "lon", "type": "quantitative", "scale": {"domain": [6, 9]}, "axis": {"orient": "bottom", "values": [6, 6.5, 7, 7.5, 8, 8.5, 9], "labels": false, "title": null}},
                                    "y": {"field": "d", "type": "quantitative", "scale": {"domain": [0, 30.6]}, "axis": {"orient": "left", "values": [0, 5, 10, 15, 20, 25, 30], "labelExpr": "datum.value % 10 == 0 ? datum.label : ''", "title": null}},
                                    "detail": {"field": "seg", "type": "nominal"}}},
                      {"data": {"values": [{"d": 2}]}, "mark": "rule",
                       "encoding": {"x": {"datum": 6, "type": "quantitative", "scale": {"domain": [6, 9]}, "axis": {"orient": "top", "values": [6, 6.5, 7, 7.5, 8, 8.5, 9], "labels": false, "title": null}}, "x2": {"datum": 9},
                                    "y": {"field": "d", "type": "quantitative", "scale": {"domain": [0, 30.6]}, "axis": {"orient": "right", "values": [0, 5, 10, 15, 20, 25, 30], "labels": false, "title": null}}}}],
                     "resolve": {"axis": {"x": "independent", "y": "independent"}}},
                    {"width": 359, "height": 50, "title": {"text": "Z=0.8km", "anchor": "start", "frame": "group", "fontSize": 7.5, "fontWeight": "bold", "offset": -20, "dx": 8},
                     "layer": [
                      {"data": {"name": "fssp100"}, "transform": [{"filter": "datum.z == '0.8'"}], "mark": "line",
                       "encoding": {"x": {"field": "lon", "type": "quantitative", "scale": {"domain": [6, 9]}, "axis": {"orient": "bottom", "values": [6, 6.5, 7, 7.5, 8, 8.5, 9], "labels": false, "title": null}},
                                    "y": {"field": "d", "type": "quantitative", "scale": {"domain": [0, 30.6]}, "axis": {"orient": "left", "values": [0, 5, 10, 15, 20, 25, 30], "labels": false, "title": null}},
                                    "detail": {"field": "seg", "type": "nominal"}}},
                      {"data": {"values": [{"d": 2}]}, "mark": "rule",
                       "encoding": {"x": {"datum": 6, "type": "quantitative", "scale": {"domain": [6, 9]}, "axis": {"orient": "top", "values": [6, 6.5, 7, 7.5, 8, 8.5, 9], "labels": false, "title": null}}, "x2": {"datum": 9},
                                    "y": {"field": "d", "type": "quantitative", "scale": {"domain": [0, 30.6]}, "axis": {"orient": "right", "values": [0, 5, 10, 15, 20, 25, 30], "labelExpr": "datum.value % 10 == 0 ? datum.label : ''", "title": null}}}}],
                     "resolve": {"axis": {"x": "independent", "y": "independent"}}},
                    {"width": 359, "height": 50, "title": {"text": "Z=0.5km", "anchor": "start", "frame": "group", "fontSize": 7.5, "fontWeight": "bold", "offset": -20, "dx": 8},
                     "layer": [
                      {"data": {"name": "fssp100"}, "transform": [{"filter": "datum.z == '0.5'"}], "mark": "line",
                       "encoding": {"x": {"field": "lon", "type": "quantitative", "scale": {"domain": [6, 9]}, "axis": {"orient": "bottom", "values": [6, 6.5, 7, 7.5, 8, 8.5, 9], "format": "~g", "labelExpr": "datum.value % 1 == 0 ? datum.label : ''", "title": "LONGITUDE (°\u00a0\u00a0E)"}},
                                    "y": {"field": "d", "type": "quantitative", "scale": {"domain": [0, 30.6]}, "axis": {"orient": "left", "values": [0, 5, 10, 15, 20, 25, 30], "labelExpr": "datum.value % 10 == 0 ? datum.label : ''", "title": null}},
                                    "detail": {"field": "seg", "type": "nominal"}}},
                      {"data": {"values": [{"d": 2}]}, "mark": "rule",
                       "encoding": {"x": {"datum": 6, "type": "quantitative", "scale": {"domain": [6, 9]}, "axis": {"orient": "top", "values": [6, 6.5, 7, 7.5, 8, 8.5, 9], "labels": false, "title": null}}, "x2": {"datum": 9},
                                    "y": {"field": "d", "type": "quantitative", "scale": {"domain": [0, 30.6]}, "axis": {"orient": "right", "values": [0, 5, 10, 15, 20, 25, 30], "labels": false, "title": null}}}}],
                     "resolve": {"axis": {"x": "independent", "y": "independent"}}}
                  ]
                }
              ]
            }
          ]
        },
        {
          "title": {"text": "(c) OAP–2D–GA2 (>50 μm) MEAN DIAMETER", "anchor": "start", "fontSize": 21.5, "offset": 0, "dx": -17},
          "vconcat": [
            {
              "title": {"text": "OAP–2D–GA2 MEAN DIAMETER ( μm)", "orient": "left", "anchor": "middle", "fontSize": 19, "offset": 14},
              "bounds": "flush",
              "spacing": 4.3,
              "vconcat": [
                {"width": 360, "height": 52, "title": {"text": "Z=5.0km", "anchor": "start", "frame": "group", "fontSize": 7.5, "fontWeight": "bold", "offset": -20, "dx": 8},
                 "layer": [
                  {"data": {"name": "oap"}, "transform": [{"filter": "datum.z == '5.0'"}], "mark": "line",
                   "encoding": {"x": {"field": "lon", "type": "quantitative", "scale": {"domain": [6, 9]}, "axis": {"orient": "bottom", "values": [6, 6.5, 7, 7.5, 8, 8.5, 9], "labels": false, "title": null}},
                                "y": {"field": "d", "type": "quantitative", "scale": {"domain": [0, 612]}, "axis": {"orient": "left", "values": [0, 100, 200, 300, 400, 500, 600], "labelExpr": "datum.value % 200 == 0 ? datum.label : ''", "title": null}},
                                "detail": {"field": "seg", "type": "nominal"}}},
                  {"data": {"values": [{"d": 45}]}, "mark": "rule",
                   "encoding": {"x": {"datum": 6, "type": "quantitative", "scale": {"domain": [6, 9]}, "axis": {"orient": "top", "values": [6, 6.5, 7, 7.5, 8, 8.5, 9], "labels": false, "title": null}}, "x2": {"datum": 9},
                                "y": {"field": "d", "type": "quantitative", "scale": {"domain": [0, 612]}, "axis": {"orient": "right", "values": [0, 100, 200, 300, 400, 500, 600], "labels": false, "title": null}}}}],
                 "resolve": {"axis": {"x": "independent", "y": "independent"}}},
                {"width": 360, "height": 52, "title": {"text": "Z=4.0km", "anchor": "start", "frame": "group", "fontSize": 7.5, "fontWeight": "bold", "offset": -20, "dx": 8},
                 "layer": [
                  {"data": {"name": "oap"}, "transform": [{"filter": "datum.z == '4.0'"}], "mark": "line",
                   "encoding": {"x": {"field": "lon", "type": "quantitative", "scale": {"domain": [6, 9]}, "axis": {"orient": "bottom", "values": [6, 6.5, 7, 7.5, 8, 8.5, 9], "labels": false, "title": null}},
                                "y": {"field": "d", "type": "quantitative", "scale": {"domain": [0, 612]}, "axis": {"orient": "left", "values": [0, 100, 200, 300, 400, 500, 600], "labels": false, "title": null}},
                                "detail": {"field": "seg", "type": "nominal"}}},
                  {"data": {"values": [{"d": 45}]}, "mark": "rule",
                   "encoding": {"x": {"datum": 6, "type": "quantitative", "scale": {"domain": [6, 9]}, "axis": {"orient": "top", "values": [6, 6.5, 7, 7.5, 8, 8.5, 9], "labels": false, "title": null}}, "x2": {"datum": 9},
                                "y": {"field": "d", "type": "quantitative", "scale": {"domain": [0, 612]}, "axis": {"orient": "right", "values": [0, 100, 200, 300, 400, 500, 600], "labelExpr": "datum.value % 200 == 0 ? datum.label : ''", "title": null}}}}],
                 "resolve": {"axis": {"x": "independent", "y": "independent"}}},
                {"width": 360, "height": 52, "title": {"text": "Z=3.1km", "anchor": "start", "frame": "group", "fontSize": 7.5, "fontWeight": "bold", "offset": -20, "dx": 8},
                 "layer": [
                  {"data": {"name": "oap"}, "transform": [{"filter": "datum.z == '3.1'"}], "mark": "line",
                   "encoding": {"x": {"field": "lon", "type": "quantitative", "scale": {"domain": [6, 9]}, "axis": {"orient": "bottom", "values": [6, 6.5, 7, 7.5, 8, 8.5, 9], "labels": false, "title": null}},
                                "y": {"field": "d", "type": "quantitative", "scale": {"domain": [0, 612]}, "axis": {"orient": "left", "values": [0, 100, 200, 300, 400, 500, 600], "labelExpr": "datum.value % 200 == 0 ? datum.label : ''", "title": null}},
                                "detail": {"field": "seg", "type": "nominal"}}},
                  {"data": {"values": [{"d": 45}]}, "mark": "rule",
                   "encoding": {"x": {"datum": 6, "type": "quantitative", "scale": {"domain": [6, 9]}, "axis": {"orient": "top", "values": [6, 6.5, 7, 7.5, 8, 8.5, 9], "labels": false, "title": null}}, "x2": {"datum": 9},
                                "y": {"field": "d", "type": "quantitative", "scale": {"domain": [0, 612]}, "axis": {"orient": "right", "values": [0, 100, 200, 300, 400, 500, 600], "labels": false, "title": null}}}}],
                 "resolve": {"axis": {"x": "independent", "y": "independent"}}},
                {"width": 360, "height": 52, "title": {"text": "Z=2.3km", "anchor": "start", "frame": "group", "fontSize": 7.5, "fontWeight": "bold", "offset": -20, "dx": 8},
                 "layer": [
                  {"data": {"name": "oap"}, "transform": [{"filter": "datum.z == '2.3'"}], "mark": "line",
                   "encoding": {"x": {"field": "lon", "type": "quantitative", "scale": {"domain": [6, 9]}, "axis": {"orient": "bottom", "values": [6, 6.5, 7, 7.5, 8, 8.5, 9], "labels": false, "title": null}},
                                "y": {"field": "d", "type": "quantitative", "scale": {"domain": [0, 612]}, "axis": {"orient": "left", "values": [0, 100, 200, 300, 400, 500, 600], "labels": false, "title": null}},
                                "detail": {"field": "seg", "type": "nominal"}}},
                  {"data": {"values": [{"d": 45}]}, "mark": "rule",
                   "encoding": {"x": {"datum": 6, "type": "quantitative", "scale": {"domain": [6, 9]}, "axis": {"orient": "top", "values": [6, 6.5, 7, 7.5, 8, 8.5, 9], "labels": false, "title": null}}, "x2": {"datum": 9},
                                "y": {"field": "d", "type": "quantitative", "scale": {"domain": [0, 612]}, "axis": {"orient": "right", "values": [0, 100, 200, 300, 400, 500, 600], "labelExpr": "datum.value % 200 == 0 ? datum.label : ''", "title": null}}}}],
                 "resolve": {"axis": {"x": "independent", "y": "independent"}}},
                {"width": 360, "height": 52, "title": {"text": "Z=1.5km", "anchor": "start", "frame": "group", "fontSize": 7.5, "fontWeight": "bold", "offset": -20, "dx": 8},
                 "layer": [
                  {"data": {"name": "oap"}, "transform": [{"filter": "datum.z == '1.5'"}], "mark": "line",
                   "encoding": {"x": {"field": "lon", "type": "quantitative", "scale": {"domain": [6, 9]}, "axis": {"orient": "bottom", "values": [6, 6.5, 7, 7.5, 8, 8.5, 9], "labels": false, "title": null}},
                                "y": {"field": "d", "type": "quantitative", "scale": {"domain": [0, 612]}, "axis": {"orient": "left", "values": [0, 100, 200, 300, 400, 500, 600], "labelExpr": "datum.value % 200 == 0 ? datum.label : ''", "title": null}},
                                "detail": {"field": "seg", "type": "nominal"}}},
                  {"data": {"values": [{"d": 45}]}, "mark": "rule",
                   "encoding": {"x": {"datum": 6, "type": "quantitative", "scale": {"domain": [6, 9]}, "axis": {"orient": "top", "values": [6, 6.5, 7, 7.5, 8, 8.5, 9], "labels": false, "title": null}}, "x2": {"datum": 9},
                                "y": {"field": "d", "type": "quantitative", "scale": {"domain": [0, 612]}, "axis": {"orient": "right", "values": [0, 100, 200, 300, 400, 500, 600], "labels": false, "title": null}}}}],
                 "resolve": {"axis": {"x": "independent", "y": "independent"}}},
                {"width": 360, "height": 52, "title": {"text": "Z=0.8km", "anchor": "start", "frame": "group", "fontSize": 7.5, "fontWeight": "bold", "offset": -20, "dx": 8},
                 "layer": [
                  {"data": {"name": "oap"}, "transform": [{"filter": "datum.z == '0.8'"}], "mark": "line",
                   "encoding": {"x": {"field": "lon", "type": "quantitative", "scale": {"domain": [6, 9]}, "axis": {"orient": "bottom", "values": [6, 6.5, 7, 7.5, 8, 8.5, 9], "labels": false, "title": null}},
                                "y": {"field": "d", "type": "quantitative", "scale": {"domain": [0, 612]}, "axis": {"orient": "left", "values": [0, 100, 200, 300, 400, 500, 600], "labels": false, "title": null}},
                                "detail": {"field": "seg", "type": "nominal"}}},
                  {"data": {"values": [{"d": 45}]}, "mark": "rule",
                   "encoding": {"x": {"datum": 6, "type": "quantitative", "scale": {"domain": [6, 9]}, "axis": {"orient": "top", "values": [6, 6.5, 7, 7.5, 8, 8.5, 9], "labels": false, "title": null}}, "x2": {"datum": 9},
                                "y": {"field": "d", "type": "quantitative", "scale": {"domain": [0, 612]}, "axis": {"orient": "right", "values": [0, 100, 200, 300, 400, 500, 600], "labelExpr": "datum.value % 200 == 0 ? datum.label : ''", "title": null}}}}],
                 "resolve": {"axis": {"x": "independent", "y": "independent"}}},
                {"width": 360, "height": 52, "title": {"text": "Z=0.5km", "anchor": "start", "frame": "group", "fontSize": 7.5, "fontWeight": "bold", "offset": -20, "dx": 8},
                 "layer": [
                  {"data": {"name": "oap"}, "transform": [{"filter": "datum.z == '0.5'"}], "mark": "line",
                   "encoding": {"x": {"field": "lon", "type": "quantitative", "scale": {"domain": [6, 9]}, "axis": {"orient": "bottom", "values": [6, 6.5, 7, 7.5, 8, 8.5, 9], "format": "~g", "labelExpr": "datum.value % 1 == 0 ? datum.label : ''", "title": "LONGITUDE (°\u00a0\u00a0E)"}},
                                "y": {"field": "d", "type": "quantitative", "scale": {"domain": [0, 612]}, "axis": {"orient": "left", "values": [0, 100, 200, 300, 400, 500, 600], "labelExpr": "datum.value % 200 == 0 ? datum.label : ''", "title": null}},
                                "detail": {"field": "seg", "type": "nominal"}}},
                  {"data": {"values": [{"d": 45}]}, "mark": "rule",
                   "encoding": {"x": {"datum": 6, "type": "quantitative", "scale": {"domain": [6, 9]}, "axis": {"orient": "top", "values": [6, 6.5, 7, 7.5, 8, 8.5, 9], "labels": false, "title": null}}, "x2": {"datum": 9},
                                "y": {"field": "d", "type": "quantitative", "scale": {"domain": [0, 612]}, "axis": {"orient": "right", "values": [0, 100, 200, 300, 400, 500, 600], "labels": false, "title": null}}}}],
                 "resolve": {"axis": {"x": "independent", "y": "independent"}}}
              ]
            }
          ]
        }
      ]
    }
  ],
  "spacing": 7
}
